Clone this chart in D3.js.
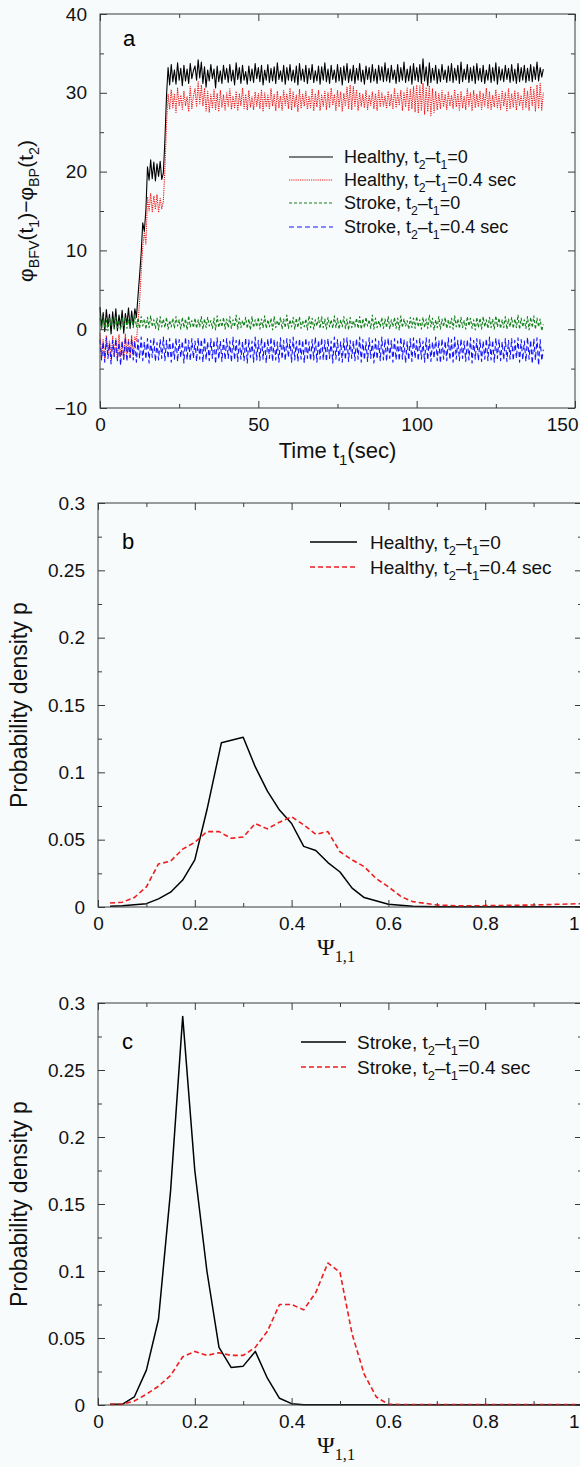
<!DOCTYPE html>
<html>
<head>
<meta charset="utf-8">
<script src="https://cdn.jsdelivr.net/npm/d3@7"></script>
<style>
  html, body { margin: 0; padding: 0; background: #f8fbfc; }
  svg { display: block; font-family: "Liberation Sans", Arial, Helvetica, sans-serif; }
</style>
</head>
<body>
<div id="chart"></div>
<script>
// ---- panel a : phase difference, one sample every 0.5 s starting at t1 = 0
let timeStep = 0.5;

let healthyLag0 = [
 2.8,0.2,2.1,-0.3,2.5,0.4,1.9,-0.6,2.2,0.1,2.6,-0.2,1.8,0.3,2.4,-0.5,2.0,0.6,2.7,0.1,
 2.3,0.5,2.6,1.5,4.2,6.8,9.6,13.5,12.4,15.2,20.6,18.9,21.5,19.1,21.2,18.8,21.0,19.4,21.3,19.0,
 19.8,24.0,29.6,33.2,31.0,33.6,31.4,32.9,31.1,33.8,31.6,33.1,30.9,33.5,31.5,33.0,31.2,33.7,31.8,32.8,
 33.4,31.6,34.2,31.9,33.9,31.2,33.3,30.7,32.9,31.5,33.6,31.8,33.0,30.6,33.4,31.4,32.8,31.2,33.5,31.7,
 33.1,31.3,33.6,31.5,32.9,31.0,33.8,31.7,33.2,31.2,33.5,31.6,32.7,31.1,33.4,31.5,33.0,31.3,33.7,31.8,
 33.2,31.4,33.5,31.0,32.9,31.6,33.6,31.3,33.1,31.5,33.3,31.2,33.8,31.7,32.8,31.4,33.5,31.1,33.2,31.6,
 33.6,31.5,32.9,31.3,33.4,31.0,33.7,31.6,33.0,31.4,33.5,31.2,33.1,31.7,33.6,31.3,32.8,31.5,33.4,31.1,
 33.3,31.6,33.8,31.4,33.0,31.2,33.5,31.7,32.9,31.3,33.6,31.5,33.2,31.0,33.4,31.6,33.7,31.3,33.0,31.5,
 33.5,31.2,33.1,31.6,33.7,31.4,32.9,31.1,33.4,31.7,33.2,31.3,33.6,31.5,33.0,31.2,33.5,31.6,33.3,31.4,
 33.8,31.5,33.1,31.3,33.5,31.7,32.9,31.2,33.6,31.4,33.2,31.6,33.9,31.3,33.0,31.5,33.4,31.1,33.7,31.6,
 33.2,31.4,33.6,31.2,34.3,31.5,33.3,30.9,33.8,31.3,33.1,31.6,33.5,31.2,33.0,31.4,33.6,31.7,32.9,31.3,
 33.4,31.5,33.7,31.3,33.1,31.6,33.5,31.2,33.9,31.4,33.0,31.7,33.6,31.3,33.2,31.5,33.4,31.2,33.7,31.6,
 33.1,31.4,33.5,31.2,32.9,31.6,33.6,31.3,33.2,31.5,33.8,31.1,33.3,31.6,33.0,31.4,33.5,31.7,33.1,31.3,
 33.6,31.5,33.0,31.2,33.7,31.4,33.2,31.6,33.5,31.3,33.1,31.5,33.6,31.4,33.3,31.7,33.9,31.5,33.2,32.0,
 33.0
];

let healthyLag04 = [
 -0.5,-3.6,-1.2,-3.9,-0.8,-3.2,-1.5,-4.0,-0.9,-3.4,-1.1,-3.8,-0.7,-3.5,-1.6,-3.9,-0.6,-3.1,-1.3,-3.7,
 -0.8,-3.3,-1.0,-1.5,0.8,3.5,7.2,10.5,12.3,10.8,16.8,15.0,17.2,14.9,16.9,15.2,17.1,14.8,16.6,15.3,
 16.2,20.5,26.0,29.8,27.9,30.4,28.1,29.9,27.5,30.6,28.3,29.7,27.9,30.2,28.4,29.5,27.6,30.8,28.0,29.6,
 30.5,28.2,31.4,28.6,31.0,28.3,30.6,27.7,30.2,27.5,29.8,28.0,30.4,27.9,29.9,27.6,30.3,28.2,29.7,27.8,
 30.0,28.3,30.5,27.9,29.6,28.1,30.2,27.7,29.9,28.4,30.6,28.0,29.8,27.8,30.3,28.2,29.5,27.9,30.1,28.3,
 29.9,28.0,30.4,27.6,30.0,28.2,29.7,27.9,30.5,28.3,29.8,27.7,30.2,28.1,29.6,27.8,30.3,28.4,29.9,28.0,
 30.6,27.8,30.1,28.2,29.7,27.6,30.4,28.0,29.8,28.3,30.2,27.9,29.6,28.1,30.5,27.7,29.9,28.2,30.3,27.8,
 29.7,28.3,30.2,27.9,30.0,28.1,30.6,28.4,29.8,27.8,30.3,28.2,30.1,27.7,29.9,28.3,30.7,28.0,31.0,27.9,
 30.8,28.2,30.4,27.8,30.0,28.3,29.8,28.1,30.3,27.9,29.7,28.4,30.1,28.0,29.9,27.8,30.4,28.2,30.0,28.3,
 29.6,28.0,30.2,28.3,29.8,27.9,30.5,28.1,29.9,28.4,30.3,27.8,30.1,28.2,30.6,27.7,30.4,28.0,30.8,27.6,
 31.0,27.4,30.9,27.8,31.2,27.3,30.7,27.6,30.9,27.1,30.5,27.5,30.2,27.8,29.9,28.0,30.3,28.2,29.8,27.9,
 30.1,28.3,29.7,28.0,30.4,28.2,29.9,27.8,30.2,28.1,29.6,27.9,30.5,28.3,30.0,27.7,30.3,28.1,29.8,28.2,
 30.2,27.9,29.9,28.3,30.6,28.0,30.1,27.8,29.7,28.2,30.4,28.1,29.8,27.9,30.3,28.3,30.0,27.6,30.5,28.0,
 29.9,28.2,30.3,27.8,30.1,28.4,29.7,27.9,30.6,28.1,30.2,27.8,30.8,28.3,30.4,27.7,31.0,28.0,31.2,27.8,
 30.0
];

let strokeLag0 = [
 1.4,0.1,1.6,0.3,1.2,-0.2,1.5,0.4,1.3,0.0,1.7,0.2,1.1,-0.1,1.4,0.3,1.6,0.1,1.2,0.4,
 1.5,0.2,1.8,0.3,1.4,0.1,1.6,0.4,1.3,0.0,1.5,0.2,1.7,0.3,1.2,0.1,1.4,-0.1,1.6,0.3,
 1.3,0.2,1.5,0.0,1.1,0.3,1.4,0.1,1.6,0.4,1.2,0.0,1.5,0.2,1.3,-0.1,1.7,0.3,1.1,0.2,
 1.4,0.1,1.2,0.3,1.6,0.0,1.3,0.2,1.5,0.4,1.1,0.1,1.4,-0.1,1.7,0.2,1.2,0.3,1.5,0.0,
 1.3,0.2,1.6,0.1,1.2,0.3,1.8,0.0,1.4,0.2,1.1,0.4,1.5,0.1,1.3,-0.1,1.6,0.2,1.2,0.3,
 1.5,0.0,1.3,0.2,1.7,0.1,1.2,0.3,1.4,-0.1,1.6,0.2,1.1,0.4,1.5,0.0,1.3,0.2,1.8,0.1,
 1.2,0.3,1.5,0.0,1.4,0.2,1.6,0.1,1.1,0.3,1.3,-0.1,1.7,0.2,1.4,0.0,1.2,0.4,1.5,0.1,
 1.6,0.2,1.3,0.0,1.5,0.3,1.2,0.1,1.7,0.2,1.4,0.0,1.2,0.3,1.6,0.1,1.3,-0.1,1.5,0.2,
 1.1,0.3,1.4,0.1,1.6,0.0,1.3,0.2,1.5,0.4,1.2,0.1,1.8,0.0,1.4,0.2,1.1,0.3,1.5,0.1,
 1.3,0.2,1.6,0.0,1.2,0.3,1.5,0.1,1.4,-0.1,1.7,0.2,1.3,0.4,1.1,0.0,1.5,0.2,1.4,0.1,
 1.6,0.3,1.2,0.0,1.5,0.2,1.3,0.1,1.8,0.3,1.4,-0.1,1.2,0.2,1.6,0.0,1.3,0.3,1.5,0.1,
 1.2,0.2,1.4,0.0,1.7,0.3,1.3,0.1,1.5,0.2,1.1,0.0,1.6,0.4,1.4,0.1,1.2,-0.1,1.5,0.2,
 1.4,0.0,1.6,0.3,1.2,0.1,1.5,0.2,1.3,0.0,1.7,0.3,1.4,0.1,1.2,0.2,1.6,0.0,1.3,0.3,
 1.5,0.1,1.3,0.2,1.8,0.0,1.4,0.3,1.2,0.1,1.6,-0.1,1.5,0.2,1.7,0.0,1.4,0.3,1.3,-0.2,
 0.6
];

let strokeLag04 = [
 -1.3,-3.9,-1.6,-4.2,-1.1,-3.7,-1.8,-4.4,-1.4,-3.5,-1.2,-4.0,-1.7,-4.6,-1.5,-3.8,-1.0,-4.1,-1.6,-3.6,
 -1.2,-3.9,-1.5,-4.2,-1.3,-3.7,-1.0,-4.0,-1.6,-3.8,-1.2,-4.3,-1.4,-3.6,-1.1,-4.1,-1.7,-3.9,-1.3,-3.7,
 -1.0,-4.0,-1.4,-3.7,-1.2,-4.2,-1.6,-3.8,-1.1,-4.1,-1.3,-3.6,-1.5,-4.3,-1.0,-3.9,-1.4,-4.0,-1.2,-3.7,
 -1.5,-4.1,-1.1,-3.8,-1.3,-4.2,-1.0,-3.9,-1.6,-4.0,-1.2,-3.7,-1.4,-4.4,-1.1,-3.8,-1.5,-4.1,-1.3,-3.9,
 -1.2,-3.7,-1.5,-4.2,-1.0,-3.9,-1.4,-4.1,-1.2,-3.8,-1.6,-4.0,-1.1,-4.3,-1.3,-3.6,-1.5,-4.2,-1.0,-3.9,
 -1.4,-4.0,-1.1,-3.8,-1.5,-4.3,-1.2,-3.7,-1.0,-4.1,-1.3,-3.9,-1.6,-4.2,-1.1,-3.8,-1.4,-4.0,-1.2,-3.6,
 -1.3,-4.2,-1.0,-3.9,-1.5,-4.1,-1.2,-3.8,-1.4,-4.3,-1.1,-3.7,-1.6,-4.0,-1.3,-3.9,-1.0,-4.2,-1.4,-3.8,
 -1.1,-3.9,-1.4,-4.1,-1.2,-3.7,-1.5,-4.3,-1.0,-3.8,-1.3,-4.0,-1.6,-4.2,-1.2,-3.9,-1.1,-4.1,-1.4,-3.7,
 -1.5,-4.0,-1.2,-3.8,-1.0,-4.2,-1.3,-3.9,-1.6,-4.1,-1.1,-3.7,-1.4,-4.3,-1.2,-3.8,-1.5,-4.0,-1.0,-3.9,
 -1.3,-4.1,-1.1,-3.7,-1.4,-4.2,-1.2,-3.9,-1.5,-4.0,-1.0,-3.8,-1.3,-4.3,-1.6,-3.9,-1.2,-4.1,-1.1,-3.7,
 -1.4,-4.0,-1.2,-3.8,-1.5,-4.2,-1.1,-3.9,-1.3,-4.1,-1.6,-3.7,-1.0,-4.0,-1.4,-4.3,-1.2,-3.8,-1.5,-4.0,
 -1.1,-3.9,-1.3,-4.2,-1.0,-3.8,-1.4,-4.0,-1.2,-3.7,-1.5,-4.1,-1.3,-3.9,-1.1,-4.3,-1.4,-3.8,-1.2,-4.0,
 -1.3,-4.1,-1.5,-3.8,-1.2,-4.0,-1.0,-3.9,-1.4,-4.2,-1.1,-3.7,-1.3,-4.0,-1.6,-3.9,-1.2,-4.1,-1.4,-3.8,
 -1.2,-4.0,-1.4,-3.7,-1.1,-4.2,-1.3,-3.9,-1.5,-4.1,-1.0,-3.8,-1.4,-4.4,-1.2,-3.9,-1.1,-4.6,-1.3,-4.0,
 -2.6
];

// ---- panels b and c : probability density of the synchronization index, [psi, p]
let densHealthyLag0 = [[0.025,0.0005],[0.05,0.001],[0.1,0.0025],[0.125,0.006],[0.15,0.011],[0.175,0.02],
 [0.2,0.035],[0.225,0.072],[0.255,0.122],[0.3,0.126],[0.325,0.104],[0.35,0.086],[0.375,0.072],[0.4,0.062],
 [0.425,0.045],[0.45,0.042],[0.475,0.033],[0.5,0.026],[0.525,0.014],[0.55,0.007],[0.6,0.002],[0.65,0.0005],
 [0.7,0.0002],[1.0,0.0002]];
let densHealthyLag04 = [[0.025,0.003],[0.05,0.0035],[0.075,0.007],[0.1,0.015],[0.125,0.032],[0.15,0.034],
 [0.175,0.043],[0.2,0.048],[0.225,0.056],[0.25,0.056],[0.275,0.051],[0.3,0.052],[0.325,0.062],[0.35,0.058],
 [0.375,0.063],[0.4,0.067],[0.425,0.061],[0.45,0.054],[0.475,0.056],[0.5,0.041],[0.525,0.035],[0.55,0.03],
 [0.575,0.021],[0.6,0.015],[0.625,0.008],[0.65,0.004],[0.7,0.0015],[0.75,0.0008],[0.8,0.001],[0.85,0.0012],
 [0.9,0.0015],[0.95,0.002],[1.0,0.0025]];
let densStrokeLag0 = [[0.025,0.0005],[0.05,0.0005],[0.075,0.006],[0.1,0.026],[0.125,0.064],[0.15,0.16],
 [0.175,0.29],[0.2,0.175],[0.225,0.1],[0.25,0.043],[0.275,0.028],[0.3,0.029],[0.325,0.04],[0.35,0.02],
 [0.375,0.005],[0.4,0.001],[0.425,0.0002],[1.0,0.0002]];
let densStrokeLag04 = [[0.025,0.0005],[0.05,0.0005],[0.075,0.003],[0.1,0.008],[0.125,0.014],[0.15,0.022],
 [0.175,0.036],[0.2,0.04],[0.225,0.037],[0.25,0.039],[0.275,0.037],[0.3,0.037],[0.325,0.043],[0.35,0.055],
 [0.375,0.075],[0.4,0.075],[0.425,0.071],[0.45,0.084],[0.475,0.106],[0.5,0.099],[0.525,0.053],[0.55,0.023],
 [0.575,0.006],[0.6,0.0005],[0.65,0.0003],[1.0,0.0003]];

// ---- ticks and labels
let timeTicks = [0, 50, 100, 150];
let phaseTicks = [-10, 0, 10, 20, 30, 40];
let psiTicks = [0, 0.2, 0.4, 0.6, 0.8, 1];
let densTicks = [0, 0.05, 0.1, 0.15, 0.2, 0.25, 0.3];

let legendA = ["Healthy, t_2\u2013t_1=0", "Healthy, t_2\u2013t_1=0.4 sec", "Stroke, t_2\u2013t_1=0", "Stroke, t_2\u2013t_1=0.4 sec"];
let legendB = ["Healthy, t_2\u2013t_1=0", "Healthy, t_2\u2013t_1=0.4 sec"];
let legendC = ["Stroke, t_2\u2013t_1=0", "Stroke, t_2\u2013t_1=0.4 sec"];

let styleBlack = { color: "#000000", dash: null, width: 1.1 };
let styleRedDot = { color: "#f01818", dash: "1.2,1", width: 1.1 };
let styleGreen = { color: "#13801a", dash: "3,2", width: 1.1 };
let styleBlue = { color: "#1414ff", dash: "5,3", width: 1.1 };
let styleBlackPdf = { color: "#000000", dash: null, width: 1.5 };
let styleRedPdf = { color: "#ee1c1c", dash: "5,3", width: 1.6 };

let svg = d3.select("#chart").append("svg")
	.attr("width", 580)
	.attr("height", 1467);

// text with "_x" or "_{xy}" subscripts
function richText(txt, str, fontSize) {
	let parts = [];
	let re = /_\{([^}]*)\}|_(.)/g;
	let last = 0, m;
	while ((m = re.exec(str)) !== null) {
		if (m.index > last) parts.push({ t: str.slice(last, m.index), sub: false });
		parts.push({ t: m[1] || m[2], sub: true });
		last = re.lastIndex;
	}
	if (last < str.length) parts.push({ t: str.slice(last), sub: false });
	let shift = fontSize * 0.3, down = false;
	parts.forEach(function (p) {
		let ts = txt.append("tspan").text(p.t);
		if (p.sub) {
			ts.attr("font-size", fontSize * 0.68);
			if (!down) { ts.attr("dy", shift); down = true; }
		} else if (down) {
			ts.attr("dy", -shift);
			down = false;
		}
	});
	return txt;
}

function styleAxis(sel, fontSize) {
	sel.select(".domain").remove();
	sel.attr("font-family", null).attr("font-size", fontSize);
	sel.selectAll(".tick line").attr("stroke", "#3a3a3a").attr("stroke-width", 1);
	sel.selectAll(".tick text").attr("fill", "#111");
}

// frame with inward major/minor ticks on all four sides
function drawAxes(g, x, y, w, h, opt) {
	let fmtX = opt.fmtX, fmtY = opt.fmtY;
	g.append("g").attr("class", "x-labels").attr("transform", "translate(0," + h + ")")
		.call(d3.axisBottom(x).tickValues(opt.xMajor).tickSize(-7).tickPadding(10).tickFormat(fmtX))
		.call(styleAxis, opt.fontSize);
	g.append("g").attr("transform", "translate(0," + h + ")")
		.call(d3.axisBottom(x).tickValues(opt.xMinor).tickSize(-4).tickFormat(""))
		.call(styleAxis, opt.fontSize);
	g.append("g")
		.call(d3.axisTop(x).tickValues(opt.xMajor).tickSize(-7).tickFormat(""))
		.call(styleAxis, opt.fontSize);
	g.append("g")
		.call(d3.axisTop(x).tickValues(opt.xMinor).tickSize(-4).tickFormat(""))
		.call(styleAxis, opt.fontSize);
	g.append("g")
		.call(d3.axisLeft(y).tickValues(opt.yMajor).tickSize(-7).tickPadding(13).tickFormat(fmtY))
		.call(styleAxis, opt.fontSize);
	g.append("g")
		.call(d3.axisLeft(y).tickValues(opt.yMinor).tickSize(-4).tickFormat(""))
		.call(styleAxis, opt.fontSize);
	g.append("g").attr("transform", "translate(" + w + ",0)")
		.call(d3.axisRight(y).tickValues(opt.yMajor).tickSize(-7).tickFormat(""))
		.call(styleAxis, opt.fontSize);
	g.append("g").attr("transform", "translate(" + w + ",0)")
		.call(d3.axisRight(y).tickValues(opt.yMinor).tickSize(-4).tickFormat(""))
		.call(styleAxis, opt.fontSize);
	g.append("rect")
		.attr("width", w).attr("height", h)
		.attr("fill", "none").attr("stroke", "#3a3a3a").attr("stroke-width", 1);
}

function drawLegend(g, labels, styles, lx0, lx1, tx, rowY, fontSize) {
	labels.forEach(function (lab, i) {
		let st = styles[i];
		g.append("line")
			.attr("x1", lx0).attr("x2", lx1)
			.attr("y1", rowY[i]).attr("y2", rowY[i])
			.attr("stroke", st.color).attr("stroke-width", st.width)
			.attr("stroke-dasharray", st.dash);
		let t = g.append("text")
			.attr("x", tx).attr("y", rowY[i] + fontSize * 0.36)
			.attr("font-size", fontSize).attr("fill", "#111");
		richText(t, lab, fontSize);
	});
}

function plotLine(g, data, line, st) {
	g.append("path")
		.datum(data)
		.attr("d", line)
		.attr("fill", "none")
		.attr("stroke", st.color)
		.attr("stroke-width", st.width)
		.attr("stroke-dasharray", st.dash)
		.attr("stroke-linejoin", "round");
}

let fmtPlain = function (d) { return String(d).replace("-", "\u2212"); };

// the last x label would run off the page: pull it inside the right edge
function tuckLastLabel(g, lastValue, dx) {
	g.selectAll("g.x-labels g.tick text").filter(function (d) { return d === lastValue; })
		.attr("text-anchor", "end").attr("x", dx);
}

// ================= panel a =================
let aW = 475, aH = 394;
let gA = svg.append("g").attr("transform", "translate(100,14)");
let xA = d3.scaleLinear().domain([0, 150]).range([0, aW]);
let yA = d3.scaleLinear().domain([-10, 40]).range([aH, 0]);

let lineA = d3.line()
	.x(function (d, i) { return xA(i * timeStep); })
	.y(function (d) { return yA(d); });

plotLine(gA, healthyLag0, lineA, styleBlack);
plotLine(gA, healthyLag04, lineA, styleRedDot);
plotLine(gA, strokeLag0, lineA, styleGreen);
plotLine(gA, strokeLag04, lineA, styleBlue);

drawAxes(gA, xA, yA, aW, aH, {
	xMajor: timeTicks, xMinor: d3.range(25, 150, 50),
	yMajor: phaseTicks, yMinor: d3.range(-5, 40, 10),
	fmtX: fmtPlain, fmtY: fmtPlain, fontSize: 19
});
tuckLastLabel(gA, 150, 3);

gA.append("text").attr("x", 23).attr("y", 32).attr("font-size", 22).text("a");
drawLegend(gA, legendA, [styleBlack, styleRedDot, styleGreen, styleBlue], 189, 233, 244, [143, 166, 189, 213], 18);

richText(gA.append("text")
	.attr("x", aW / 2).attr("y", aH + 50)
	.attr("text-anchor", "middle").attr("font-size", 22).attr("fill", "#111"),
	"Time t_1(sec)", 22);
richText(gA.append("text")
	.attr("transform", "translate(-67," + (aH / 2) + ") rotate(-90)")
	.attr("text-anchor", "middle").attr("font-size", 21).attr("fill", "#111"),
	"\u03C6_{BFV}(t_1)\u2212\u03C6_{BP}(t_2)", 21);

// ================= panels b, c =================
function densityPanel(top, h, seriesA, seriesB, legendLabels, letter, legendX) {
	let w = 484;
	let g = svg.append("g").attr("transform", "translate(98," + top + ")");
	let x = d3.scaleLinear().domain([0, 1]).range([0, w]);
	let y = d3.scaleLinear().domain([0, 0.3]).range([h, 0]);
	let line = d3.line()
		.x(function (d) { return x(d[0]); })
		.y(function (d) { return y(d[1]); });

	plotLine(g, seriesA, line, styleBlackPdf);
	plotLine(g, seriesB, line, styleRedPdf);

	drawAxes(g, x, y, w, h, {
		xMajor: psiTicks, xMinor: d3.range(0.1, 1, 0.2),
		yMajor: densTicks, yMinor: d3.range(0.025, 0.3, 0.05),
		fmtX: fmtPlain, fmtY: fmtPlain, fontSize: 19
	});
	tuckLastLabel(g, 1, -3);

	g.append("text").attr("x", 24).attr("y", 46).attr("font-size", 22).text(letter);
	drawLegend(g, legendLabels, [styleBlackPdf, styleRedPdf], legendX[0], legendX[1], legendX[2], [39, 64], 19);

	g.append("text")
		.attr("transform", "translate(-71," + (h / 2) + ") rotate(-90)")
		.attr("text-anchor", "middle").attr("font-size", 23).attr("fill", "#111")
		.text("Probability density p");
	richText(g.append("text")
		.attr("x", w / 2 - 4).attr("y", h + 48)
		.attr("text-anchor", "middle").attr("font-size", 24).attr("fill", "#111")
		.attr("font-family", "'Liberation Serif', 'Times New Roman', serif"),
		"\u03A8_{1,1}", 24);
}

densityPanel(503, 404, densHealthyLag0, densHealthyLag04, legendB, "b", [212, 259, 272]);
densityPanel(1003, 402, densStrokeLag0, densStrokeLag04, legendC, "c", [203, 248, 259]);
</script>
</body>
</html>
